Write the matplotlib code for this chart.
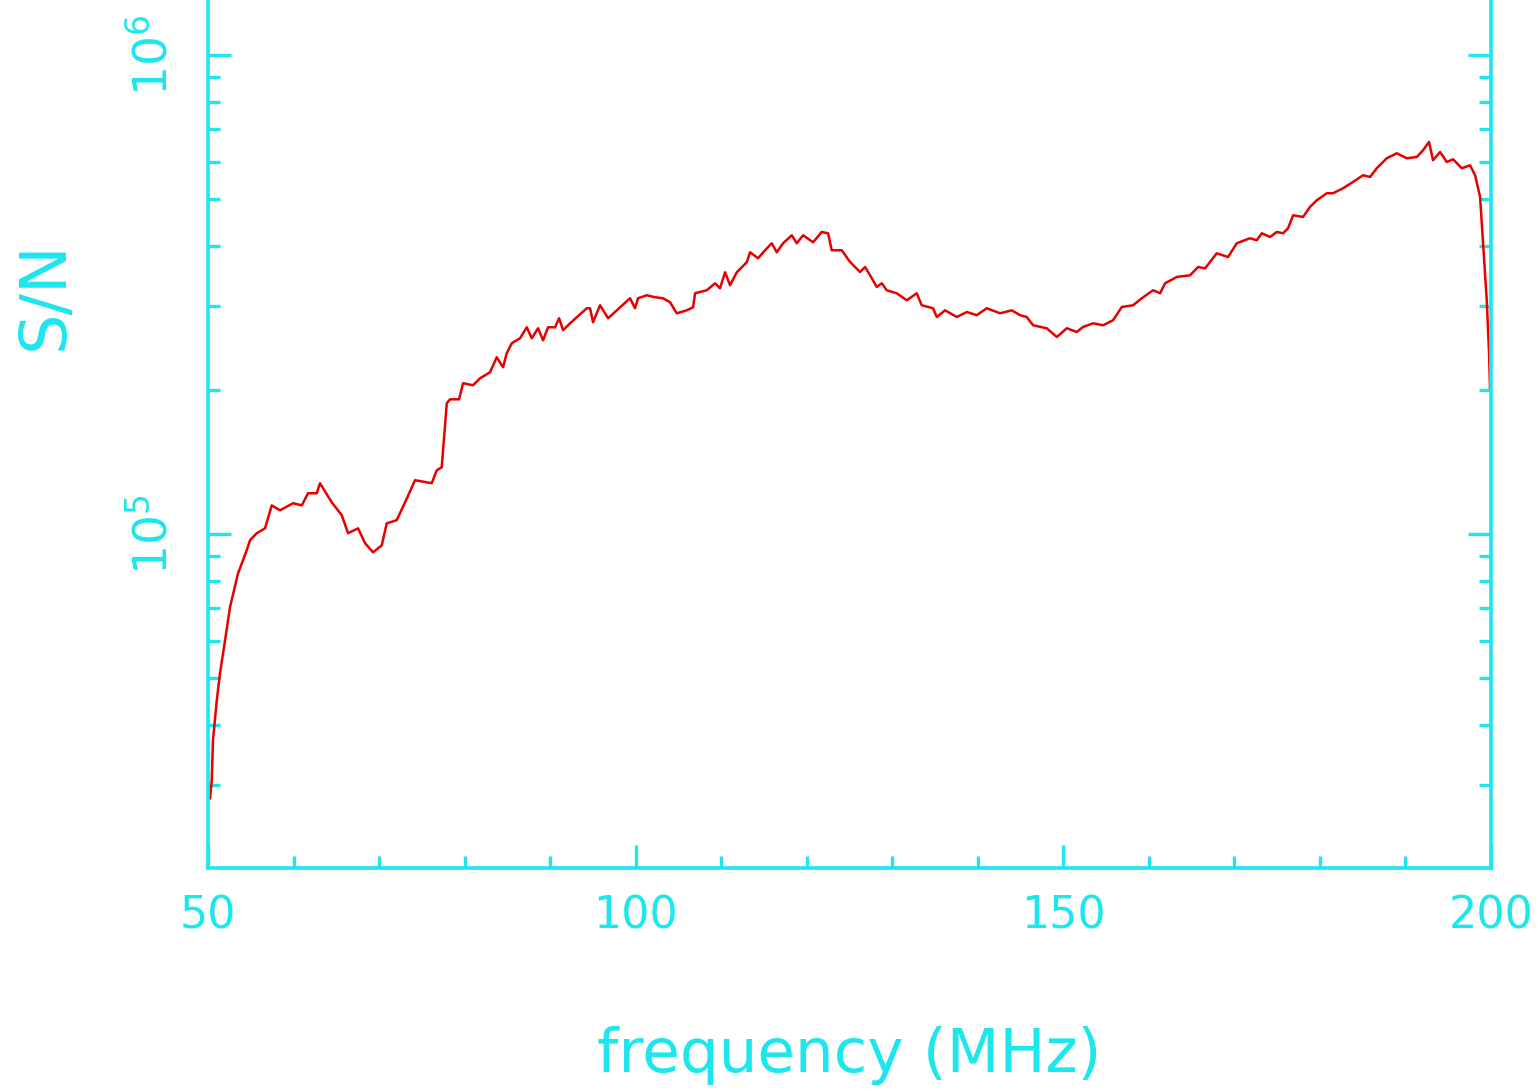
# S/N against frequency, log y axis
import numpy as np
import matplotlib
matplotlib.use("Agg")
import matplotlib.pyplot as plt
from matplotlib.ticker import MultipleLocator, LogLocator, NullFormatter

# frequency (MHz)
freq = [50.23, 50.43, 50.58, 51.02, 51.40, 51.99, 52.57, 53.51, 54.52, 54.91,
        55.69, 56.66, 57.45, 58.42, 59.94, 60.96, 61.69, 62.71, 63.09, 64.46,
        65.63, 66.37, 67.54, 68.36, 69.29, 70.31, 70.89, 72.06, 73.15, 74.20,
        76.15, 76.74, 77.32, 77.91, 78.29, 79.35, 79.81, 80.98, 81.80, 82.97,
        83.75, 84.49, 84.92, 85.51, 86.48, 87.26, 87.85, 88.58, 89.17, 89.75,
        90.57, 91.04, 91.51, 92.32, 93.11, 94.28, 94.66, 95.01, 95.83, 96.77,
        98.17, 99.34, 99.92, 100.27, 101.29, 102.26, 103.20, 104.02, 104.80, 105.97,
        106.71, 106.94, 108.31, 109.28, 109.86, 110.45, 111.03, 111.82, 112.98, 113.37,
        114.31, 115.12, 115.91, 116.49, 117.23, 118.25, 118.83, 119.57, 120.74, 121.75,
        122.49, 122.92, 124.09, 125.06, 126.23, 126.82, 127.40, 128.18, 128.77, 129.35,
        130.52, 131.69, 132.86, 133.44, 134.77, 135.20, 136.17, 137.54, 138.71, 139.88,
        141.04, 142.60, 143.97, 144.94, 145.72, 146.46, 148.06, 149.23, 150.40, 151.57,
        152.30, 153.47, 154.64, 155.81, 156.83, 158.15, 159.17, 160.49, 161.31, 161.89,
        163.26, 164.81, 165.75, 166.57, 167.93, 169.26, 170.27, 171.83, 172.61, 173.20,
        174.17, 174.95, 175.69, 176.27, 176.86, 178.02, 178.84, 179.63, 180.80, 181.53,
        182.70, 183.87, 185.04, 185.86, 186.64, 187.81, 188.98, 190.15, 191.32, 192.05,
        192.75, 193.22, 194.04, 194.83, 195.56, 196.58, 197.55, 198.14, 198.72, 199.07,
        199.50, 199.77, 199.88]

# S/N in units of 1e5
sn = [0.281, 0.306, 0.372, 0.450, 0.513, 0.601, 0.705, 0.829, 0.926, 0.972,
      1.005, 1.029, 1.149, 1.122, 1.161, 1.149, 1.218, 1.218, 1.278, 1.166,
      1.096, 1.005, 1.029, 0.958, 0.917, 0.948, 1.054, 1.070, 1.178, 1.297,
      1.278, 1.360, 1.380, 1.877, 1.913, 1.913, 2.067, 2.047, 2.117, 2.179,
      2.342, 2.232, 2.387, 2.505, 2.566, 2.705, 2.566, 2.692, 2.541, 2.705,
      2.705, 2.825, 2.667, 2.757, 2.838, 2.964, 2.964, 2.771, 3.007, 2.825,
      2.978, 3.110, 2.964, 3.110, 3.155, 3.125, 3.110, 3.050, 2.893, 2.935,
      2.978, 3.185, 3.232, 3.342, 3.262, 3.524, 3.310, 3.524, 3.697, 3.879,
      3.769, 3.917, 4.051, 3.879, 4.051, 4.209, 4.051, 4.209, 4.071, 4.277,
      4.250, 3.917, 3.917, 3.703, 3.528, 3.614, 3.473, 3.283, 3.342, 3.232,
      3.185, 3.080, 3.185, 3.007, 2.964, 2.842, 2.935, 2.842, 2.911, 2.867,
      2.964, 2.893, 2.935, 2.867, 2.842, 2.731, 2.692, 2.582, 2.692, 2.645,
      2.709, 2.757, 2.731, 2.798, 2.982, 3.007, 3.110, 3.232, 3.185, 3.342,
      3.445, 3.473, 3.614, 3.591, 3.860, 3.792, 4.051, 4.150, 4.110, 4.250,
      4.175, 4.277, 4.250, 4.354, 4.634, 4.597, 4.824, 4.982, 5.152, 5.152,
      5.278, 5.440, 5.618, 5.572, 5.810, 6.095, 6.243, 6.095, 6.133, 6.334,
      6.592, 6.037, 6.282, 5.987, 6.066, 5.810, 5.893, 5.618, 5.061, 4.051,
      3.080, 2.387, 2.018]

axis_col = '#1de6ec'

fig = plt.figure(figsize=(15.4, 10.92), dpi=100)
ax = fig.add_axes([0.1351, 0.2051, 0.8331, 0.8215])

ax.plot(freq, np.array(sn) * 1e5, color='#e60000', lw=1.8)

ax.set_yscale('log')
ax.set_xlim(50, 200)
ax.set_ylim(2.01e4, 1.5e6)

ax.xaxis.set_major_locator(MultipleLocator(50))
ax.xaxis.set_minor_locator(MultipleLocator(10))
ax.yaxis.set_major_locator(LogLocator(base=10, numticks=10))
ax.yaxis.set_minor_locator(LogLocator(base=10, subs=np.arange(2, 10), numticks=20))
ax.yaxis.set_minor_formatter(NullFormatter())

for s in ax.spines.values():
    s.set_color(axis_col)
    s.set_linewidth(2.6)

ax.tick_params(which='both', direction='in', color=axis_col, width=2.4,
               top=True, right=True, labelcolor=axis_col, labelsize=32)
ax.tick_params(which='major', length=16.5)
ax.tick_params(which='minor', length=8.5)
ax.tick_params(axis='x', which='major', pad=19)
ax.tick_params(axis='y', which='major', pad=22)
for lab in ax.get_yticklabels():
    lab.set_rotation(90)
    lab.set_va('center')
    lab.set_fontsize(34)

ax.set_xlabel('frequency (MHz)', color=axis_col, fontsize=44)
ax.xaxis.set_label_coords(0.5, -0.209)
ax.xaxis.label.set_va('center')
ax.set_ylabel('S/N', color=axis_col, fontsize=46)
ax.yaxis.set_label_coords(-0.127, 0.639)
ax.yaxis.label.set_va('center')

fig.savefig('out.png', dpi=100, facecolor='white')
